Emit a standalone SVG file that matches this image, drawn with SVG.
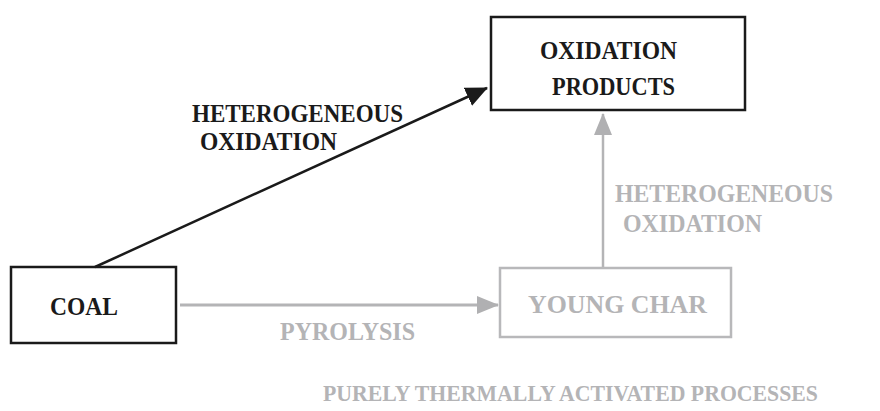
<svg xmlns="http://www.w3.org/2000/svg" width="880" height="411" viewBox="0 0 880 411">
<style>
.t{font-family:"Liberation Serif","DejaVu Serif",serif;font-weight:bold;font-size:26px}
.k{fill:#1a1a1a}
.g{fill:#b4b4b6}
.bk{fill:none;stroke:#1a1a1a;stroke-width:2.5}
.bg{fill:none;stroke:#b8b8ba;stroke-width:2.5}
</style>
<defs>
<marker id="ak" viewBox="0 0 22 20" refX="21" refY="10" markerWidth="22" markerHeight="20" markerUnits="userSpaceOnUse" orient="auto">
<path d="M0,0 L22,10 L0,20 z" fill="#1a1a1a"/>
</marker>
<marker id="ag" viewBox="0 0 22 18" refX="21" refY="9" markerWidth="22" markerHeight="18" markerUnits="userSpaceOnUse" orient="auto">
<path d="M0,0 L22,9 L0,18 z" fill="#b0b0b2"/>
</marker>
</defs>
<rect width="880" height="411" fill="#ffffff"/>
<g id="connectors">
<line x1="95" y1="267" x2="487" y2="88" stroke="#1a1a1a" stroke-width="2.5" marker-end="url(#ak)"/>
<line x1="180" y1="305" x2="498" y2="305" stroke="#b4b4b6" stroke-width="3" marker-end="url(#ag)"/>
<line x1="603" y1="268" x2="603" y2="114" stroke="#b4b4b6" stroke-width="2.5" marker-end="url(#ag)"/>
<text class="t k" x="192" y="122" textLength="211" lengthAdjust="spacingAndGlyphs">HETEROGENEOUS</text>
<text class="t k" x="200" y="150" textLength="137" lengthAdjust="spacingAndGlyphs">OXIDATION</text>
<text class="t g" x="615" y="202" textLength="218" lengthAdjust="spacingAndGlyphs">HETEROGENEOUS</text>
<text class="t g" x="623" y="232" textLength="139" lengthAdjust="spacingAndGlyphs">OXIDATION</text>
<text class="t g" x="280" y="340" textLength="135" lengthAdjust="spacingAndGlyphs">PYROLYSIS</text>
</g>
<g id="oxidation-products">
<rect class="bk" x="491" y="17" width="254" height="93"/>
<text class="t k" x="540" y="59" textLength="137" lengthAdjust="spacingAndGlyphs">OXIDATION</text>
<text class="t k" x="552" y="95" textLength="123" lengthAdjust="spacingAndGlyphs">PRODUCTS</text>
</g>
<g id="coal">
<rect class="bk" x="11" y="267" width="165" height="76"/>
<text class="t k" x="50" y="315" textLength="68" lengthAdjust="spacingAndGlyphs">COAL</text>
</g>
<g id="young-char">
<rect class="bg" x="500" y="268" width="231" height="69"/>
<text class="t g" x="528" y="313" textLength="179" lengthAdjust="spacingAndGlyphs">YOUNG CHAR</text>
</g>
<g id="caption">
<text class="t g" x="323" y="401" style="font-size:23px" textLength="495" lengthAdjust="spacingAndGlyphs">PURELY THERMALLY ACTIVATED PROCESSES</text>
</g>
</svg>
